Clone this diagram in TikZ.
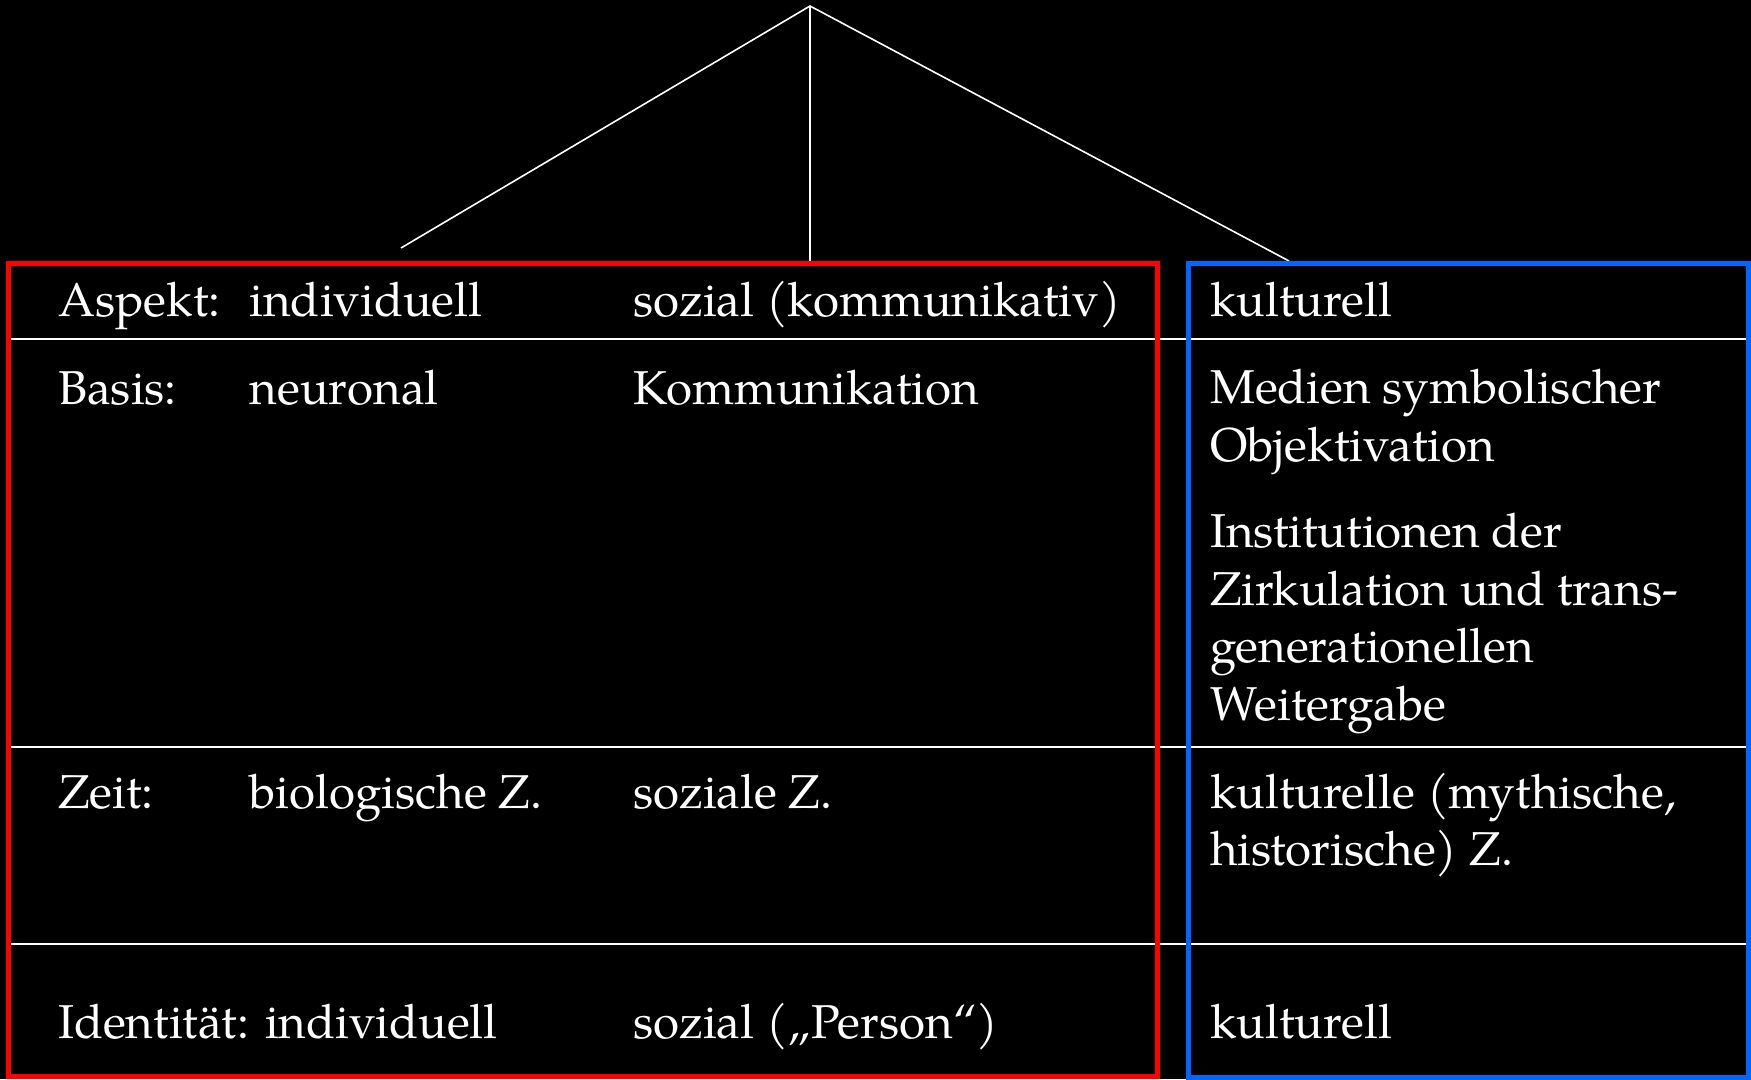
\documentclass[tikz,border=0pt]{standalone}
\usepackage{fontspec}
\setmainfont{TeX Gyre Pagella}
\definecolor{memblue}{RGB}{0,102,255}

\begin{document}
\begin{tikzpicture}[x=1pt,y=-1pt,
    cell/.style={anchor=base west,inner sep=0pt,text=white,align=left,
        font=\fontsize{47.5}{57.5}\selectfont},
    rule/.style={draw=white,line width=2pt},
    spoke/.style={draw=white,line width=1.6pt},
    group/.style={line width=5pt}]
    \fill [black] (0,0) rectangle (1751,1079);
    \useasboundingbox (0,0) rectangle (1751,1079);
    % spokes from the top
    \coordinate (top) at (810,6);
    \coordinate (leftend) at (401,248);
    \coordinate (midend) at (810,263);
    \coordinate (rightend) at (1289,261);
    \draw [spoke] (leftend) -- (top) -- (rightend);
    \draw [spoke] (top) -- (midend);
    % table rules and the two groups
    \foreach \y in {338.5,746.5,944}
        \draw [rule] (8,\y) -- (1748,\y);
    \draw [group,draw=red] (8.5,263.5) rectangle (1157.5,1076.5);
    \draw [group,draw=memblue] (1188,263.5) rectangle (1748.5,1077);
    % rows (multi-line cells sit on their last baseline)
    \node [cell] (aspekt) at (58,316.5) {Aspekt:};
    \node [cell] (aspind) at (249.5,316.5) {individuell};
    \node [cell] (aspsoz) at (633,316.5) {sozial (kommunikativ)};
    \node [cell] (aspkul) at (1210,316.5) {kulturell};
    \node [cell] (basis) at (58,404) {Basis:};
    \node [cell] (basneu) at (249.5,404) {neuronal};
    \node [cell] (baskom) at (633,404) {Kommunikation};
    \node [cell] (basmed) at (1210,461) {Medien symbolischer\\Objektivation};
    \node [cell] (basinst) at (1210,720) {Institutionen der\\Zirkulation und trans-\\generationellen\\Weitergabe};
    \node [cell] (zeit) at (58,808.5) {Zeit:};
    \node [cell] (zeitbio) at (249.5,808.5) {biologische Z.};
    \node [cell] (zeitsoz) at (633,808.5) {soziale Z.};
    \node [cell] (zeitkul) at (1210,865.5) {kulturelle (mythische,\\historische) Z.};
    \node [cell] (ident) at (58,1038.5) {Identität: individuell};
    \node [cell] (identsoz) at (633,1038.5) {sozial („Person“)};
    \node [cell] (identkul) at (1210,1038.5) {kulturell};
\end{tikzpicture}
\end{document}
